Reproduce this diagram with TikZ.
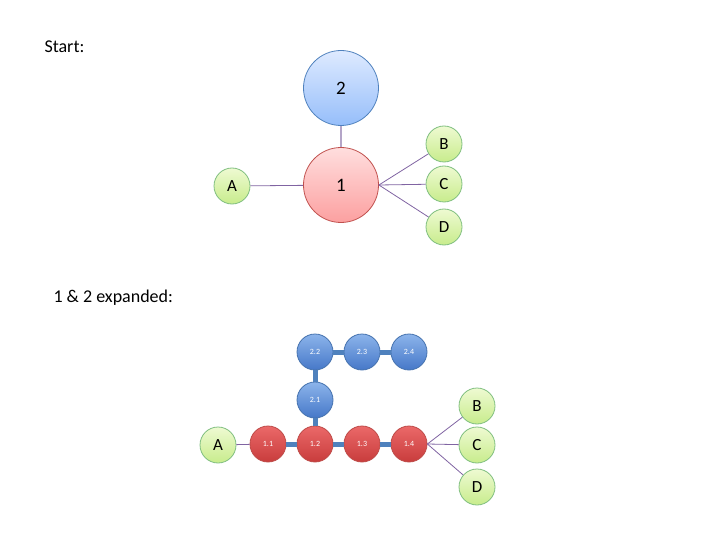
\documentclass[tikz,border=0pt]{standalone}
\usepackage{fontspec}
\setmainfont{Carlito}
\begin{document}
\begin{tikzpicture}[x=1pt,y=-1pt,
  big/.style={circle,inner sep=0pt,minimum size=75pt,font=\fontsize{19}{19}\selectfont},
  leaf/.style={circle,inner sep=0pt,minimum size=36pt,draw=green!50!black!50,line width=0.8pt,
    top color={rgb,255:red,238;green,250;blue,210},bottom color={rgb,255:red,200;green,236;blue,140},
    font=\fontsize{17}{17}\selectfont},
  redbig/.style={big,draw={rgb,255:red,192;green,80;blue,77},line width=0.8pt,
    top color={rgb,255:red,255;green,222;blue,222},bottom color={rgb,255:red,252;green,160;blue,160}},
  bluebig/.style={big,draw={rgb,255:red,79;green,129;blue,189},line width=0.8pt,
    top color={rgb,255:red,222;green,234;blue,255},bottom color={rgb,255:red,150;green,190;blue,250}},
  small/.style={circle,inner sep=0pt,minimum size=36pt,text=white,font=\fontsize{8}{8}\selectfont,line width=0.8pt},
  redsmall/.style={small,draw={rgb,255:red,190;green,75;blue,72},
    top color={rgb,255:red,235;green,105;blue,105},bottom color={rgb,255:red,200;green,60;blue,60}},
  bluesmall/.style={small,draw={rgb,255:red,70;green,115;blue,175},
    top color={rgb,255:red,140;green,180;blue,235},bottom color={rgb,255:red,70;green,120;blue,200}},
  thin/.style={draw={rgb,255:red,128;green,100;blue,162},line width=0.8pt},
  chain/.style={draw={rgb,255:red,79;green,129;blue,189},line width=5pt},
  title/.style={anchor=west,font=\fontsize{18}{18}\selectfont}]
\useasboundingbox (0,0) rectangle (720,540);

% start
\node[title] (start) at (41,47) {Start:};
\node[bluebig] (n2) at (341,88) {2};
\node[redbig] (n1) at (341,185) {1};
\node[leaf] (a) at (232,186) {A};
\node[leaf] (b) at (444,144) {B};
\node[leaf] (c) at (444,184) {C};
\node[leaf] (d) at (444,227) {D};

\draw[draw={rgb,255:red,180;green,165;blue,200},line width=2pt] (n1) -- (n2);
\draw[thin] (a) -- (n1);
\foreach \l in {b,c,d}
  \draw[thin] (n1.east) -- (\l);

% expanded
\node[title] (exp) at (50,298) {1 \& 2 expanded:};
\node[redsmall] (r1) at (268,444) {1.1};
\node[redsmall] (r2) at (315,444) {1.2};
\node[redsmall] (r3) at (362,444) {1.3};
\node[redsmall] (r4) at (409,444) {1.4};
\node[bluesmall] (b1) at (315,400) {2.1};
\node[bluesmall] (b2) at (315,352) {2.2};
\node[bluesmall] (b3) at (362,352) {2.3};
\node[bluesmall] (b4) at (409,352) {2.4};
\node[leaf] (a2) at (218,445) {A};
\node[leaf] (bb) at (477,406) {B};
\node[leaf] (cc) at (477,445) {C};
\node[leaf] (dd) at (477,487) {D};

\draw[chain] (r1) -- (r2);
\draw[chain] (r2) -- (r3);
\draw[chain] (r3) -- (r4);
\draw[chain] (r2) -- (b1);
\draw[chain] (b1) -- (b2);
\draw[chain] (b2) -- (b3);
\draw[chain] (b3) -- (b4);
\draw[thin] (a2) -- (r1);
\foreach \l in {bb,cc,dd}
  \draw[thin] (r4.east) -- (\l);
\end{tikzpicture}
\end{document}
